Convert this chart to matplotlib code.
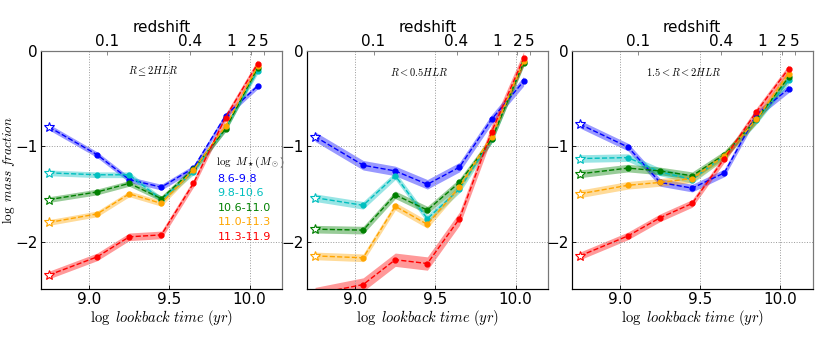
import numpy as np
import matplotlib
matplotlib.use("Agg")
import matplotlib.pyplot as plt

plt.rcParams['mathtext.fontset'] = 'cm'
plt.rcParams['font.family'] = ['DejaVu Sans']

# ---- data ----
log_t = [8.75, 9.05, 9.25, 9.45, 9.65, 9.85, 10.05]
mass_bins = ['8.6-9.8', '9.8-10.6', '10.6-11.0', '11.0-11.3', '11.3-11.9']
colors = ['b', 'c', 'g', 'orange', 'r']
panel_titles = [r'$R \leq 2HLR$', r'$R<0.5HLR$', r'$1.5<R<2HLR$']

# panel 1: R <= 2HLR
p1 = [
    [-0.80, -1.09, -1.35, -1.43, -1.23, -0.68, -0.37],
    [-1.28, -1.30, -1.30, -1.56, -1.27, -0.81, -0.21],
    [-1.56, -1.48, -1.39, -1.55, -1.24, -0.82, -0.18],
    [-1.80, -1.71, -1.50, -1.60, -1.25, -0.79, -0.16],
    [-2.35, -2.16, -1.95, -1.93, -1.39, -0.70, -0.135],
]
e1 = [0.03, 0.03, 0.03, 0.03, 0.04]
# panel 2: R < 0.5HLR
p2 = [
    [-0.90, -1.20, -1.26, -1.40, -1.22, -0.72, -0.32],
    [-1.54, -1.62, -1.31, -1.76, -1.45, -0.93, -0.115],
    [-1.87, -1.88, -1.51, -1.67, -1.38, -0.93, -0.125],
    [-2.15, -2.17, -1.63, -1.82, -1.43, -0.90, -0.11],
    [-2.55, -2.45, -2.19, -2.23, -1.76, -0.85, -0.08],
]
e2 = [0.05, 0.04, 0.04, 0.04, 0.07]
# panel 3: 1.5 < R < 2HLR
p3 = [
    [-0.77, -1.01, -1.38, -1.44, -1.28, -0.67, -0.40],
    [-1.13, -1.12, -1.27, -1.35, -1.10, -0.73, -0.31],
    [-1.29, -1.23, -1.26, -1.31, -1.09, -0.72, -0.28],
    [-1.50, -1.41, -1.38, -1.34, -1.10, -0.72, -0.24],
    [-2.15, -1.94, -1.75, -1.60, -1.13, -0.64, -0.19],
]
e3 = [0.04, 0.04, 0.04, 0.04, 0.04]
panels = [p1, p2, p3]
errs = [e1, e2, e3]

z_ticks = [0.1, 0.4, 1, 2, 5]
z_labels = ['0.1', '0.4', '1', '2', '5']


def lookback_log(z, H0=70.0, Om=0.3):
    zz = np.linspace(0, z, 4000)
    E = np.sqrt(Om * (1 + zz) ** 3 + (1 - Om))
    integrand = 1.0 / ((1 + zz) * E)
    th = 977.8 / H0  # Gyr
    t = th * np.trapezoid(integrand, zz)
    return np.log10(t * 1e9)


z_pos = [lookback_log(z) for z in z_ticks]

fig = plt.figure(figsize=(8.3, 3.41), dpi=100)
lefts = [0.0494, 0.3699, 0.689]
for k in range(3):
    ax = fig.add_axes([lefts[k], 0.1516, 0.290, 0.6997])
    x = np.array(log_t)
    for i in range(5):
        y = np.array(panels[k][i])
        e = errs[k][i]
        c = colors[i]
        ax.fill_between(x, y - e, y + e, color=c, alpha=0.4, lw=0)
        ax.plot(x, y, '--', color=c, lw=1.0)
        ax.plot(x[1:], y[1:], 'o', color=c, ms=3.5, mec=c)
        ax.plot(x[:1], y[:1], '*', mfc='white', mec=c, ms=7, mew=0.8)
    ax.set_xlim(8.7, 10.2)
    ax.set_ylim(-2.5, 0)
    ax.set_xticks([9.0, 9.5, 10.0])
    ax.set_xticklabels(['9.0', '9.5', '10.0'])
    ax.set_yticks([0, -1, -2])
    ax.set_yticklabels(['0', '\u22121', '\u22122'])
    ax.grid(True, linestyle=':', color='#999999', lw=0.7)
    ax.tick_params(labelsize=11, length=3, direction='in', width=0.6)
    ax.tick_params(axis='x', pad=2)
    ax.tick_params(axis='y', pad=2.5)
    for s in ['top', 'right']:
        ax.spines[s].set_color('#777777')
    ax.set_xlabel(r'$\log\ lookback\ time\ (yr)$', fontsize=10.5)
    ax.xaxis.set_label_coords(0.5, -0.08)
    if k == 0:
        ax.set_ylabel(r'$\log\ mass\ fraction$', fontsize=9.5)
        ax.yaxis.set_label_coords(-0.1, 0.5)
    ax.text(9.4, -0.22, panel_titles[k], fontsize=7.5, ha='center', va='center')

    ax2 = ax.twiny()
    ax2.set_xlim(8.7, 10.2)
    ax2.set_xticks(z_pos)
    ax2.set_xticklabels(z_labels)
    ax2.tick_params(labelsize=11, length=3, direction='in', width=0.6,
                    color='#777777', pad=1)
    ax2.set_xlabel('redshift', fontsize=11, labelpad=2)
    for s in ['top', 'right']:
        ax2.spines[s].set_color('#777777')

    if k == 0:
        ax.text(9.79, -1.17, r'$\log\ M_\star(M_\odot)$', fontsize=8,
                ha='left', va='center')
        for i in range(5):
            ax.text(9.80, -1.34 - 0.152 * i, mass_bins[i], color=colors[i],
                    fontsize=8, ha='left', va='center')

fig.savefig('out.png', dpi=100)
